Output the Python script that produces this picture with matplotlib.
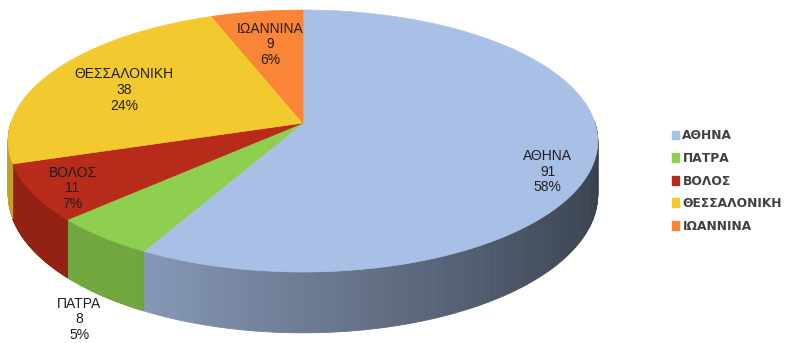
"""3D pie of records per city (ΑΘΗΝΑ, ΠΑΤΡΑ, ΒΟΛΟΣ, ΘΕΣΣΑΛΟΝΙΚΗ, ΙΩΑΝΝΙΝΑ)."""

import matplotlib
matplotlib.use("Agg")
import matplotlib.pyplot as plt
import numpy as np
from matplotlib.patches import Patch, Polygon

cities = ["ΑΘΗΝΑ", "ΠΑΤΡΑ", "ΒΟΛΟΣ", "ΘΕΣΣΑΛΟΝΙΚΗ", "ΙΩΑΝΝΙΝΑ"]
counts = [91, 8, 11, 38, 9]
colors = ["#A9C0E6", "#8ECF4F", "#B82A1A", "#F2C92E", "#FB8536"]

# perspective-projected disc, in pixels
CX, CY, A, B, K, DEPTH = 303.0, 123.0, 292.0, 128.5, 0.1374, 52.5
label_r = [0.84, 1.1, 0.86, 0.71, 0.68]
label_dy = [21, 10, 6, 5, 0]

plt.rcParams["font.family"] = ["Liberation Sans", "DejaVu Sans"]


def proj(t, r=1.0, down=0.0):
    u, w = r * np.cos(t), r * np.sin(t)
    s = 1.0 / (1.0 + K * w)
    return CX + A * u * s, CY - B * w * s + down * s


def shade(hex_color, c):
    f = min(0.8, 0.646 - 0.308 * c)
    rgb = np.array(matplotlib.colors.to_rgb(hex_color))
    return tuple(rgb * f)


fig = plt.figure(figsize=(7.88, 3.43), dpi=100)
ax = fig.add_axes([0, 0, 1, 1])
ax.set_xlim(0, 788)
ax.set_ylim(343, 0)
ax.axis("off")

fracs = np.array(counts) / sum(counts)
# first slice starts at 12 o'clock, slices run clockwise
spans = []
for i in range(len(counts)):
    a0 = np.pi / 2 - 2 * np.pi * np.sum(fracs[: i + 1])
    a1 = np.pi / 2 - 2 * np.pi * np.sum(fracs[:i])
    spans.append((a0, a1))

# side walls (front half only)
for (a0, a1), col in zip(spans, colors):
    ts = np.linspace(a0, a1, 240)
    for t0, t1 in zip(ts[:-1], ts[1:]):
        tm = 0.5 * (t0 + t1)
        if np.sin(tm) > 0.01:
            continue
        x0, y0 = proj(t0)
        x1, y1 = proj(t1)
        bx0, by0 = proj(t0, down=DEPTH)
        bx1, by1 = proj(t1, down=DEPTH)
        c = shade(col, np.cos(tm))
        ax.add_patch(Polygon([(x0, y0), (x1, y1), (bx1, by1), (bx0, by0)],
                             closed=True, facecolor=c, edgecolor=c, lw=0.6))

# top faces
for (a0, a1), col in zip(spans, colors):
    ts = np.linspace(a0, a1, 240)
    xs, ys = proj(ts)
    pts = [(CX, CY)] + list(zip(xs, ys))
    ax.add_patch(Polygon(pts, closed=True, facecolor=col, edgecolor=col, lw=0.5))

# data labels
for (a0, a1), name, n, fr, r, dy in zip(spans, cities, counts, fracs, label_r, label_dy):
    tm = 0.5 * (a0 + a1)
    x, y = proj(tm, r, down=DEPTH if r > 1 else 0.0)
    ax.text(x, y + dy, f"{name}\n{n}\n{fr * 100:.0f}%", ha="center", va="center",
            fontsize=10, color="#1f1f1f", linespacing=1.15)

handles = [Patch(facecolor=c, edgecolor=c) for c in colors]
fig.legend(handles, cities, loc="center left", bbox_to_anchor=(672 / 788, 1 - 181 / 343),
           frameon=False, prop={"family": "DejaVu Sans", "size": 8.8, "weight": "bold"},
           handlelength=0.6, handleheight=0.7, handletextpad=0.25, labelspacing=0.78,
           labelcolor="#404040", borderaxespad=0, borderpad=0)

fig.savefig("out.png", dpi=100, facecolor="white")
